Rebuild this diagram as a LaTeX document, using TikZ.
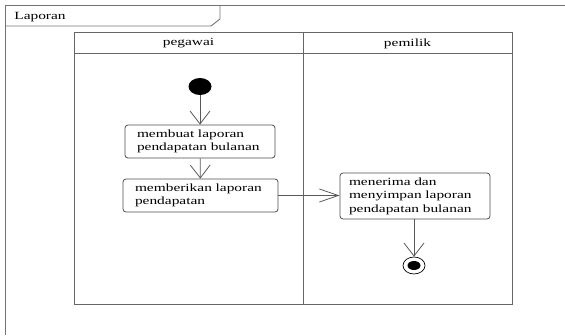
\documentclass[tikz,border=0pt]{standalone}
\usepackage{fontspec}
\setmainfont[FakeStretch=1.4]{Liberation Serif}
\usetikzlibrary{arrows.meta,shapes.geometric}
\begin{document}
\begin{tikzpicture}[x=1pt,y=-1pt,
  frame/.style={draw=black!55,line width=0.9pt},
  lane/.style={draw=black!60,line width=0.9pt},
  lbl/.style={font=\fontsize{11}{13.5}\selectfont},
  actbox/.style={lbl,draw=black!70,line width=0.8pt,rounded corners=3pt,align=left,
    inner ysep=0pt,minimum width=#1},
  vflow/.style={draw=black!65,line width=0.8pt,-{Straight Barb[length=13pt,width=20pt,line width=0.8pt]}},
  hflow/.style={draw=black!65,line width=0.8pt,-{Straight Barb[length=19pt,width=13pt,line width=0.8pt]}}
]
\useasboundingbox (0,0) rectangle (565,335);
% outer frame
\draw[frame] (565,5) -- (5,5) -- (5,335);
\draw[frame] (220,5) -- (220,19) -- (211,26) -- (5,26);
\node[lbl,anchor=base,inner sep=0pt] (title) at (40,19.5) {Laporan};
% swimlanes
\draw[lane] (74,32) rectangle (512,304);
\draw[lane] (74,53) -- (512,53);
\draw[lane] (303,32) -- (303,304);
\node[lbl] (lane1) at (188.5,43.5) {pegawai};
\node[lbl] (lane2) at (407.5,43.5) {pemilik};
% start
\node[fill=black,ellipse,minimum width=23pt,minimum height=17pt,inner sep=0pt] (start) at (200,86.5) {};
% activities
\node[actbox=150pt,minimum height=33pt,inner xsep=12pt,text width=126pt] (b1) at (200,141.5)
  {membuat laporan\\pendapatan bulanan};
\node[actbox=155pt,minimum height=33pt,inner xsep=12pt,text width=131pt] (b2) at (200.5,195.5)
  {memberikan laporan\\pendapatan};
\node[actbox=150pt,minimum height=46pt,inner xsep=9pt,text width=132pt] (b3) at (415,196)
  {menerima dan\\menyimpan laporan\\pendapatan bulanan};
% end
\node[draw=black,line width=0.7pt,ellipse,minimum width=22pt,minimum height=17pt,inner sep=0pt] (endo) at (414,265.5) {};
\node[fill=black,ellipse,minimum width=13pt,minimum height=9pt,inner sep=0pt] (endi) at (414,265.5) {};
% flows
\draw[vflow] (start) -- (b1);
\draw[vflow] (b1) -- (b2);
\draw[hflow] (b2) -- (b2 -| b3.west);
\draw[vflow] (b3.south -| endo) -- (endo.north);
\end{tikzpicture}
\end{document}
